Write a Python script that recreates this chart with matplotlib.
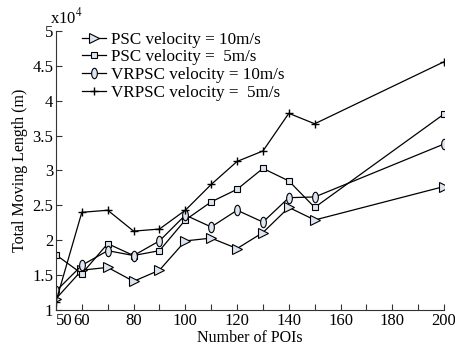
import matplotlib.pyplot as plt
from matplotlib.path import Path
from matplotlib.transforms import Affine2D

plt.rcParams['font.family'] = ['Liberation Serif', 'DejaVu Serif']
plt.rcParams['mathtext.fontset'] = 'stix'

pois = [50, 60, 70, 80, 90, 100, 110, 120, 130, 140, 150, 200]
psc_10 = [1.16, 1.57, 1.61, 1.41, 1.57, 1.99, 2.03, 1.88, 2.11, 2.47, 2.29, 2.77]
psc_5 = [1.79, 1.52, 1.95, 1.78, 1.85, 2.29, 2.55, 2.73, 3.03, 2.85, 2.47, 3.81]
vrpsc_10 = [1.27, 1.64, 1.85, 1.78, 1.99, 2.36, 2.19, 2.43, 2.26, 2.61, 2.62, 3.38]
vrpsc_5 = [1.12, 2.40, 2.43, 2.13, 2.16, 2.43, 2.80, 3.13, 3.28, 3.82, 3.67, 4.56]

labels = ['PSC velocity = 10m/s', 'PSC velocity =  5m/s',
          'VRPSC velocity = 10m/s', 'VRPSC velocity =  5m/s']

x_ticks = list(range(50, 201, 10))
x_labels = ['50', '60', '', '80', '', '100', '', '120', '', '140', '', '160', '', '180', '', '200']
y_ticks = [1, 1.5, 2, 2.5, 3, 3.5, 4, 4.5, 5]
y_labels = ['1', '1.5', '2', '2.5', '3', '3.5', '4', '4.5', '5']

fill = '#dde5f2'
ellipse = Path.unit_circle().transformed(Affine2D().scale(0.55, 1.0))

fig = plt.figure(figsize=(4.55, 3.49), dpi=100)
ax = fig.add_axes([0.123, 0.112, 0.853, 0.799])

ax.plot(pois, psc_10, color='black', lw=0.9, marker='>', ms=6.5, mfc=fill, mec='black', mew=0.8, label=labels[0])
ax.plot(pois, psc_5, color='black', lw=0.9, marker='s', ms=4.5, mfc=fill, mec='black', mew=0.8, label=labels[1])
ax.plot(pois, vrpsc_10, color='black', lw=0.9, marker=ellipse, ms=7.5, mfc=fill, mec='black', mew=0.8, label=labels[2])
ax.plot(pois, vrpsc_5, color='black', lw=0.9, marker='+', ms=5.5, mec='black', mew=1.0, label=labels[3])

ax.set_xlim(50, 200)
ax.set_ylim(1, 5)
ax.set_xticks(x_ticks)
ax.set_xticklabels(x_labels)
ax.set_yticks(y_ticks)
ax.set_yticklabels(y_labels)
ax.tick_params(direction='in', labelsize=12, length=4, color='#333333', pad=2)
first = ax.get_xticklabels()[0]
first.set_horizontalalignment('left')
for s in ['top', 'right']:
    ax.spines[s].set_visible(False)
for s in ['left', 'bottom']:
    ax.spines[s].set_color('#333333')

ax.set_xlabel('Number of POIs', fontsize=11.5, labelpad=1)
ax.set_ylabel('Total Moving Length (m)', fontsize=11.5, labelpad=3)
ax.text(-0.016, 1.012, r'x10$^4$', transform=ax.transAxes, fontsize=12, ha='left', va='bottom')

ax.legend(loc='upper left', bbox_to_anchor=(0.04, 1.035), frameon=False, fontsize=12.3,
          handlelength=1.4, handletextpad=0.3, labelspacing=0.1, borderaxespad=0.2)

fig.savefig('out.png', dpi=100)
